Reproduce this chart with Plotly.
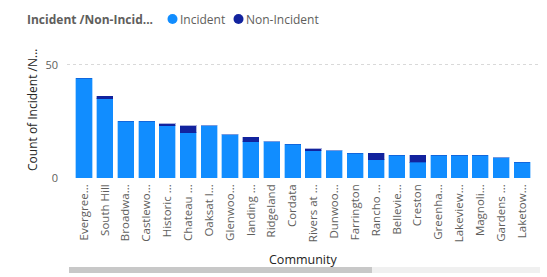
import plotly.graph_objects as go

communities = ["Evergree...", "South Hill", "Broadwa...", "Castlewo...", "Historic ...", "Chateau ...",
               "Oaksat l...", "Glenwoo...", "landing ...", "Ridgeland", "Cordata", "Rivers at ...",
               "Dunwoo...", "Farrington", "Rancho ...", "Bellevie...", "Creston", "Greenha...",
               "Lakeview...", "Magnoli...", "Gardens ...", "Laketow..."]
incident = [44, 35, 25, 25, 23, 20, 23, 19, 16, 16, 15, 12, 12, 11, 8, 10, 7, 10, 10, 10, 9, 7]
non_incident = [0, 1, 0, 0, 1, 3, 0, 0, 2, 0, 0, 1, 0, 0, 3, 0, 3, 0, 0, 0, 0, 0]
y_ticks = [0, 50]
series_names = ["Incident", "Non-Incident"]

C_INC = "#118DFF"
C_NON = "#12239E"
FONT = "Open Sans"

W, H = 547, 277
ML, MR, MT, MB = 67, 9, 54, 99
PW, PH = W - ML - MR, H - MT - MB


def px(x):
    return (x - ML) / PW


def py(y):
    return (H - MB - y) / PH


fig = go.Figure()
fig.add_trace(go.Bar(x=communities, y=incident, name=series_names[0], marker_color=C_INC,
                     marker_line=dict(color="rgba(17,141,255,0.35)", width=1)))
fig.add_trace(go.Bar(x=communities, y=non_incident, name=series_names[1], marker_color=C_NON,
                     marker_line=dict(color="rgba(18,35,158,0.35)", width=1)))

LEG_Y = 19
annotations = [
    dict(xref="paper", yref="paper", x=px(25), y=py(LEG_Y), xanchor="left", yanchor="middle",
         showarrow=False, text="<b>Incident /Non-Incid...</b>",
         font=dict(size=12, color="#605E5C", family=FONT)),
    dict(xref="paper", yref="paper", x=px(178), y=py(LEG_Y), xanchor="left", yanchor="middle",
         showarrow=False, text=series_names[0],
         font=dict(size=12, color="#605E5C", family=FONT)),
    dict(xref="paper", yref="paper", x=px(244), y=py(LEG_Y), xanchor="left", yanchor="middle",
         showarrow=False, text=series_names[1],
         font=dict(size=12, color="#605E5C", family=FONT)),
    dict(xref="paper", yref="paper", x=px(32), y=py(110), xanchor="center", yanchor="middle",
         showarrow=False, text="Count of Incident /N...", textangle=-90,
         font=dict(size=12, color="#252423", family=FONT)),
    dict(xref="paper", yref="paper", x=px(303), y=py(259), xanchor="center", yanchor="middle",
         showarrow=False, text="Community",
         font=dict(size=12.5, color="#252423", family=FONT)),
]

shapes = [
    dict(type="rect", xref="paper", yref="paper", x0=px(69), x1=px(540), y0=py(273), y1=py(267),
         fillcolor="#F0F0F0", line=dict(width=0), layer="above"),
    dict(type="rect", xref="paper", yref="paper", x0=px(69), x1=px(372), y0=py(273), y1=py(267),
         fillcolor="#C8C8C8", line=dict(width=0), layer="above"),
]
for cx, col in [(172.5, C_INC), (238.5, C_NON)]:
    shapes.append(dict(type="circle", xref="paper", yref="paper",
                       xsizemode="pixel", ysizemode="pixel",
                       xanchor=px(cx), yanchor=py(LEG_Y),
                       x0=-5, x1=5, y0=-5, y1=5,
                       fillcolor=col, line=dict(width=0)))

fig.update_layout(
    width=W, height=H,
    margin=dict(l=ML, r=MR, t=MT, b=MB, autoexpand=False),
    barmode="stack", bargap=0.23,
    plot_bgcolor="white", paper_bgcolor="white",
    showlegend=False,
    font=dict(family=FONT, color="#605E5C", size=11),
    xaxis=dict(
        range=[-0.815, 21.765], tickangle=-90, showgrid=False, zeroline=False,
        tickfont=dict(size=11.5, color="#605E5C"), ticklabelstandoff=3,
        automargin=False, fixedrange=True,
    ),
    yaxis=dict(
        range=[0, 54.7], tickvals=y_ticks, showgrid=True, gridcolor="#D9D9D9",
        griddash="dot", gridwidth=1, zeroline=False, ticklabelstandoff=8,
        tickfont=dict(size=11, color="#605E5C"),
        automargin=False, fixedrange=True,
    ),
    annotations=annotations,
    shapes=shapes,
)

fig.write_html("out.html", config={"displayModeBar": False},
               post_script="document.body.style.margin='0';")
